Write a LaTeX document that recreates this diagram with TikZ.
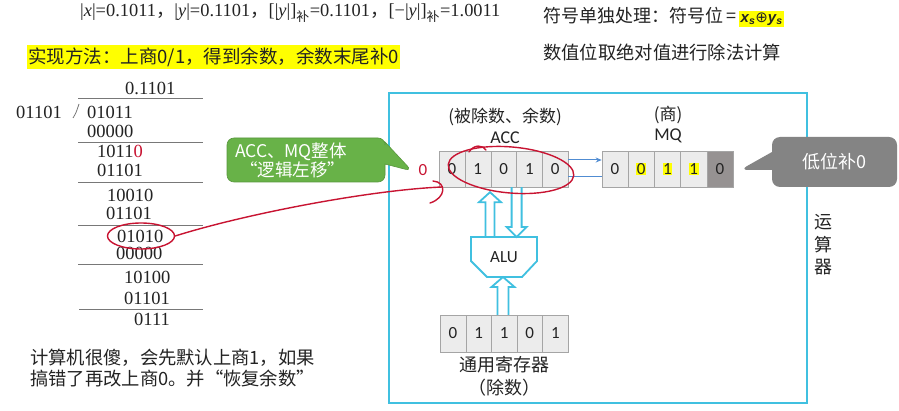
\documentclass[tikz,border=0pt]{standalone}
\usepackage{fontspec}
\setmainfont{Noto Sans CJK SC}
\newfontfamily\tnrfont{Liberation Serif}
\newfontfamily\calfont{Carlito}
\newfontfamily\dvsfont{DejaVu Sans}
\newfontfamily\lsansfont{Liberation Sans}
\usetikzlibrary{shapes.callouts,shapes.geometric,calc,arrows.meta}
\definecolor{cyanline}{RGB}{64,192,224}
\definecolor{accblue}{RGB}{80,140,210}
\definecolor{redink}{RGB}{200,20,50}
\definecolor{greenbox}{RGB}{104,178,72}
\definecolor{graybox}{RGB}{132,132,132}
\definecolor{cellfill}{RGB}{236,236,236}
\definecolor{celldraw}{RGB}{165,165,165}
\definecolor{hl}{RGB}{255,255,0}
\definecolor{darkcell}{RGB}{150,146,146}
\definecolor{txt}{RGB}{35,35,35}
\definecolor{rule}{RGB}{120,120,120}
\newcommand\fs[2]{\fontsize{#1}{#2}\selectfont}
\newcommand\hlx[1]{{\setlength\fboxsep{0.6pt}\colorbox{hl}{#1}}}
\newcommand\vhollow[5]{\draw[hollow] let \p1=(#1),\p2=(#2),\n1={sign(\y2-\y1)} in
  (\x1-#3,\y1) -- (\x1-#3,\y2-\n1*#5) -- (\x1-#4,\y2-\n1*#5) -- (\x1,\y2)
  -- (\x1+#4,\y2-\n1*#5) -- (\x1+#3,\y2-\n1*#5) -- (\x1+#3,\y1);}
\begin{document}
\begin{tikzpicture}[x=1pt,y=-1pt,
  plain/.style={text=txt, inner sep=0pt},
  divnum/.style={plain, anchor=west, font=\tnrfont\fs{18.5}{20}},
  divrule/.style={draw=rule, line width=0.8pt},
  cell/.style={draw=celldraw, fill=cellfill, minimum width=25.8pt, minimum height=36pt,
     inner sep=0pt, font=\calfont\fs{17}{19}, text=txt},
  hollow/.style={draw=cyanline, line width=1.8pt, line join=miter},
  redpen/.style={draw=redink, line width=1.4pt, line cap=round},
  thinarrow/.style={draw=accblue, line width=1pt}]
\useasboundingbox (0,0) rectangle (899,411);
\fill[white] (0,0) rectangle (899,411);

% ---------- top texts ----------
\node[plain, anchor=west, font=\tnrfont\fs{18.4}{22}] (l1) at (80,13)
  {|\textit{x}|=0.1011{\rmfamily ，}|\textit{y}|=0.1101{\rmfamily ，}[|\textit{y}|]\textsubscript{\rmfamily 补}=0.1101{\rmfamily ，}[−|\textit{y}|]\textsubscript{\rmfamily 补}=1.0011};
\node[plain, anchor=west, fill=hl, inner xsep=1pt, inner ysep=2.5pt, font=\fs{18.5}{21}] (method) at (27,57)
  {实现方法：上商0/1，得到余数，余数末尾补0};
\node[plain, anchor=west, font=\fs{18}{20}] (sign) at (543,17)
  {符号单独处理：符号位\,=\,{\setlength\fboxsep{1.5pt}\colorbox{hl}{\fs{15}{17}{\lsansfont\bfseries\itshape x\textsubscript{s}}{\dvsfont ⊕}{\lsansfont\bfseries\itshape y\textsubscript{s}}}}};
\node[plain, anchor=west, font=\fs{18.3}{20}] (abs) at (543,52) {数值位取绝对值进行除法计算};

% ---------- long division ----------
\node[divnum] (q) at (125,88) {0.1101};
\node[divnum] (dv) at (16,112) {01101};
\draw[divrule] (78,98) -- (203,98);
\draw[rule, line width=0.8pt] (73,118) .. controls (76,113) .. (79,104);
\node[divnum] (r1) at (87,112) {01011};
\node[divnum] (r2) at (87,131) {00000};
\draw[divrule] (78,142) -- (203,142);
\node[divnum] (r3) at (97,151) {1011{\color{redink}0}};
\node[divnum] (r4) at (97,170) {01101};
\draw[divrule] (78,182) -- (203,182);
\node[divnum] (r5) at (107,195) {10010};
\node[divnum] (r6) at (106,213) {01101};
\draw[divrule] (78,225) -- (203,225);
\node[divnum] (r7) at (117,236) {01010};
\node[divnum] (r8) at (116,253) {00000};
\draw[divrule] (78,264) -- (203,264);
\node[divnum] (r9) at (124,277) {10100};
\node[divnum] (r10) at (124,298) {01101};
\draw[divrule] (79,309) -- (203,309);
\node[divnum] (r11) at (134,319) {0111};

% ---------- bottom note ----------
\node[plain, anchor=north west, align=left, font=\fs{18.3}{21}] (note) at (30,349)
  {计算机很傻，会先默认上商1，如果\\搞错了再改上商0。并“恢复余数”};

% ---------- ALU box ----------
\draw[cyanline, line width=2pt] (389,93) rectangle (807,403);
\node[plain, align=center, font=\fs{18}{22.5}] (yunsuanqi) at (823,245) {运\\算\\器};

% ACC
\node[plain, font=\fs{17}{19}] (acclab) at (505,117) {(被除数、余数)};
\node[plain, font=\calfont\fs{18}{20}] (accname) at (505,138) {ACC};
\foreach \v [count=\i] in {0,1,0,1,0}
  \node[cell] (acc\i) at ({452+25.8*(\i-1)},169) {\v};
\node[plain, text=redink, font=\calfont\fs{17}{19}] (redzero) at (423,170) {0};

% MQ
\node[plain, font=\fs{17}{19}] (mqlab) at (668,115) {(商)};
\node[plain, font=\calfont\fs{18}{20}] (mqname) at (668,136) {MQ};
\node[cell, minimum width=26.2pt] (mq1) at (615,169) {0};
\node[cell, minimum width=26.2pt] (mq2) at (641.2,169) {\hlx{0}};
\node[cell, minimum width=26.2pt] (mq3) at (667.4,169) {\hlx{1}};
\node[cell, minimum width=26.2pt] (mq4) at (693.6,169) {\hlx{1}};
\node[cell, minimum width=26.2pt, fill=darkcell] (mq5) at (719.8,169) {0};

\draw[thinarrow, -{Stealth[length=6pt,width=5pt]}] ([yshift=9pt]acc5.east) -- ([yshift=9pt]mq1.west);
\draw[thinarrow] ([yshift=-8pt]acc5.east) -- ([yshift=-8pt]mq1.west);

% ALU
\draw[cyanline, line width=1.8pt, line join=miter] (471,237) -- (537,237) -- (537,261) -- (522,277) -- (487,277) -- (471,261) -- cycle;
\coordinate (alutop) at (504,237);
\coordinate (alubot) at (504,277);
\node[plain, font=\calfont\fs{17}{19}] (alu) at (504,257) {ALU};

% general register
\foreach \v [count=\i] in {0,1,1,0,1}
  \node[cell, minimum width=25.6pt, minimum height=37pt] (reg\i) at ({453+25.6*(\i-1)},333.5) {\v};
\node[plain, font=\fs{18}{20}] (reglab) at (504,365) {通用寄存器};
\node[plain, font=\fs{18}{20}] (reglab2) at (504,388) {（除数）};

% hollow arrows
\vhollow{[xshift=-14pt]alutop}{[xshift=-14pt,yshift=-5pt]acc3.south}{4.5pt}{11pt}{10pt}
\vhollow{[xshift=13pt]acc3.south}{[xshift=13pt]alutop}{5pt}{10pt}{10pt}
\vhollow{[xshift=-1.2pt]reg3.north}{[xshift=-1pt]alubot}{5.5pt}{11.5pt}{10pt}

% callouts
\coordinate (gtip) at (412,171);
\node[rectangle callout, fill=greenbox, draw=greenbox!85!black, line width=0.6pt, rounded corners=7pt,
  callout absolute pointer={(gtip)}, callout pointer width=22pt,
  minimum width=158pt, minimum height=44pt, text=white, align=left, text width=142pt, inner xsep=0pt,
  font=\fs{17.5}{19}] (gcall) at (306,160) {ACC、MQ整体\\\hspace*{5pt}“逻辑左移”};
\coordinate (ytip) at (740,170);
\node[rectangle callout, fill=graybox, rounded corners=8pt,
  callout absolute pointer={(ytip)}, callout pointer width=18pt,
  minimum width=125pt, minimum height=50pt, text=white,
  font=\fs{18}{20}] (ycall) at (834.5,162) {低位补0};

% red hand-drawn marks
\node[draw=redink, line width=1.4pt, ellipse, minimum width=67pt, minimum height=26pt] (e1) at (141,236) {};
\node[draw=redink, line width=1.4pt, ellipse, rotate=-5, minimum width=126pt, minimum height=46pt] (e2) at (511,170) {};
\draw[redpen] (469,152) .. controls (474,144) and (483,145) .. (486,150);
\coordinate (redtip) at (442,187);
\draw[redpen] (e1.east) .. controls (245,214) and (370,190) .. (redtip);
\draw[redpen] (433,181) .. controls (447,182) and (446,198) .. (430,203);
\end{tikzpicture}
\end{document}
